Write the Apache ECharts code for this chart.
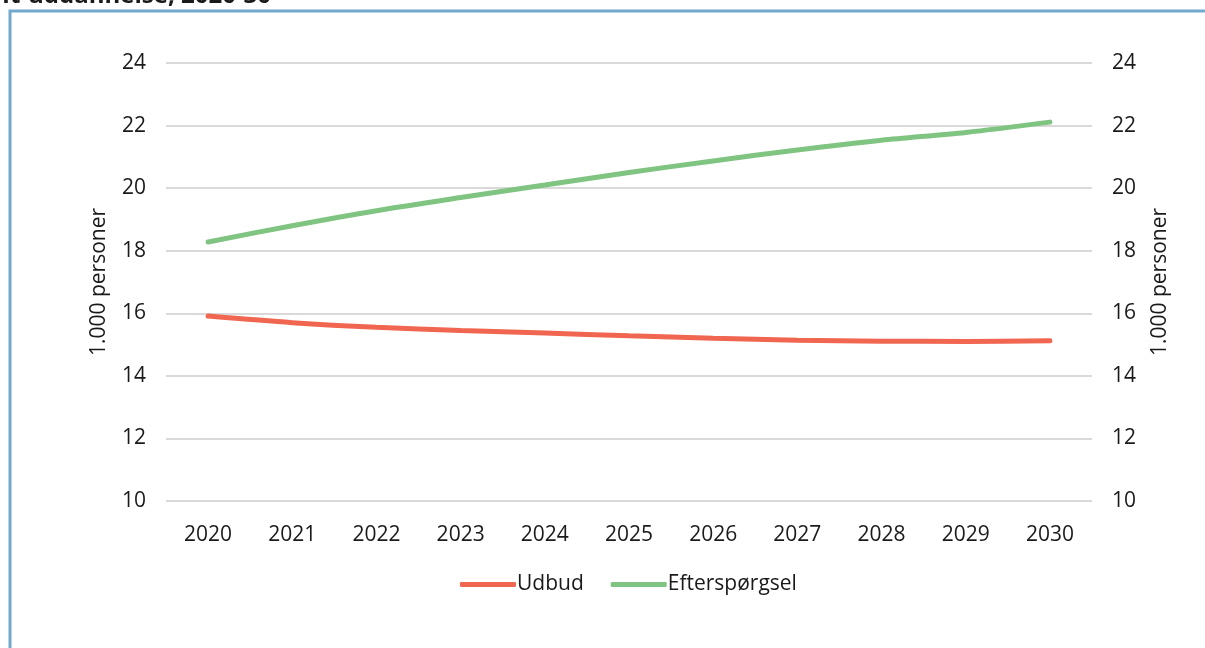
<!DOCTYPE html>
<html><head><meta charset="utf-8">
<script src="https://cdn.jsdelivr.net/npm/echarts@6/dist/echarts.min.js"></script>
<style>html,body{margin:0;padding:0;background:#fff}#c{width:1205px;height:648px}</style>
</head><body><div id="c"></div>
<script>
const years = ['2020','2021','2022','2023','2024','2025','2026','2027','2028','2029','2030'];
const udbud = [15.91,15.70,15.55,15.45,15.37,15.28,15.20,15.14,15.11,15.10,15.12];
const efterspoergsel = [18.28,18.80,19.28,19.70,20.10,20.50,20.87,21.22,21.53,21.78,22.11];
const yTicks = {min:10, max:24, interval:2};
const font = 'Open Sans';
const fs = 21;
const chart = echarts.init(document.getElementById('c'));
const yAxisCommon = (pos, showSplit) => ({
  type:'value', position:pos, min:yTicks.min, max:yTicks.max, interval:yTicks.interval,
  name:'1.000 personer', nameLocation:'middle', nameGap:56, nameRotate:90,
  nameTextStyle:{fontFamily:font, fontSize:fs, color:'#1a1a1a'},
  axisLine:{show:false}, axisTick:{show:false},
  axisLabel:{fontFamily:font, fontSize:fs, color:'#1a1a1a', margin:20},
  splitLine:{show:showSplit, lineStyle:{color:'#d9d9d9', width:2}}
});
chart.setOption({
  animation:false,
  textStyle:{fontFamily:font},
  graphic:[
    {type:'rect', shape:{x:10, y:11, width:1300, height:800}, style:{fill:'none', stroke:'#72aace', lineWidth:3}},
    {type:'text', left:2, top:-16, style:{text:'It-uddannelse, 2020-30', font:'bold 24px "Open Sans"', fill:'#1a1a1a'}}
  ],
  grid:{left:166, right:113, top:63, bottom:147},
  legend:{top:569, left:455, itemWidth:56, itemHeight:5, itemGap:27, icon:'roundRect',
    textStyle:{fontFamily:font, fontSize:fs, color:'#1a1a1a', padding:[0,0,0,-4]},
    data:['Udbud','Efterspørgsel']},
  xAxis:{type:'category', data:years, boundaryGap:true,
    axisLine:{show:false}, axisTick:{show:false},
    axisLabel:{fontFamily:font, fontSize:fs, color:'#1a1a1a', margin:24}},
  yAxis:[yAxisCommon('left', true), Object.assign(yAxisCommon('right', false), {nameGap:58})],
  series:[
    {name:'Udbud', type:'line', data:udbud, smooth:0.3, symbol:'none', lineStyle:{color:'#f06650', width:5, cap:'round'}, itemStyle:{color:'#f06650'}},
    {name:'Efterspørgsel', type:'line', data:efterspoergsel, smooth:0.3, symbol:'none', lineStyle:{color:'#80c482', width:5, cap:'round'}, itemStyle:{color:'#80c482'}}
  ]
});
</script></body></html>
